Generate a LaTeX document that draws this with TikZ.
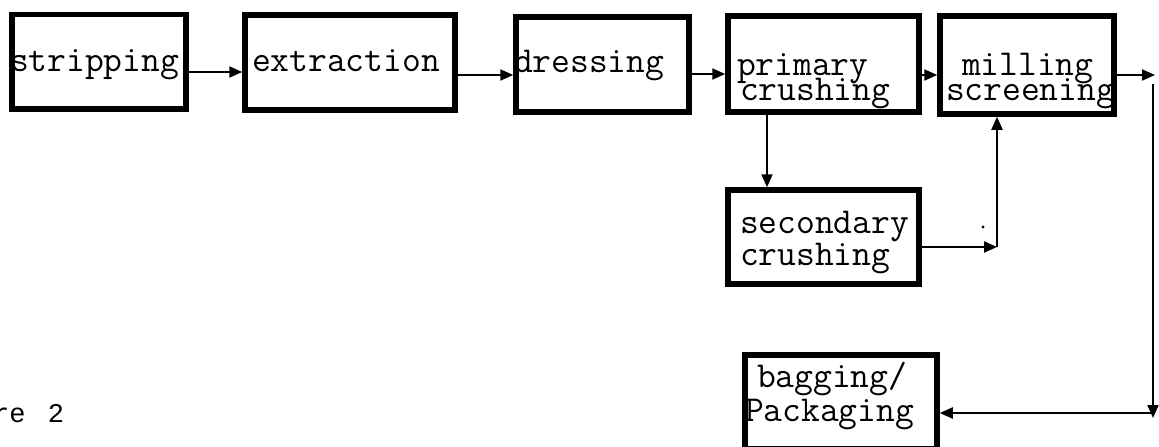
\documentclass[tikz,border=0pt]{standalone}
\usepackage{fontspec}
\newfontfamily\capfont{Liberation Mono}
\usetikzlibrary{arrows.meta}
\begin{document}
\begin{tikzpicture}[x=1pt,y=-1pt,
  stagebox/.style={draw,line width=5.5pt,rectangle,inner sep=0pt,
    minimum width=#1},
  lbl/.style={anchor=base west,inner sep=0pt,outer sep=0pt,
    font=\ttfamily\fontsize{36.5}{36.5}\selectfont},
  flow/.style={line width=2pt,-{Triangle[length=13pt,width=11pt]}}]
\useasboundingbox (0,0) rectangle (1159,447);
\clip (0,0) rectangle (1159,447);

% stage labels (boxes are drawn over them)
\node[lbl] (tStrip) at (10,71) {stripping};
\node[lbl] (tExtr) at (252,71) {extraction};
\node[lbl] (tDress) at (514,72) {dressing};
\node[lbl] (tPrimA) at (737,75) {primary};
\node[lbl] (tPrimB) at (740,100) {crushing};
\node[lbl] (tMillA) at (962,75) {milling};
\node[lbl] (tMillB) at (946,100) {screening};
\node[lbl] (tSecA) at (740,233) {secondary};
\node[lbl] (tSecB) at (740,265) {crushing};
\node[lbl] (tBagA) at (757,387) {bagging/};
\node[lbl] (tBagB) at (745,421) {Packaging};
\node[anchor=base west,inner sep=0pt,font=\capfont\fontsize{27}{27}\selectfont]
  (caption) at (-7,422) {re\ \hspace{6pt}2};

% process stages
\node[stagebox=174pt,minimum height=94.5pt] (strip) at (99,61.75) {};
\node[stagebox=210pt,minimum height=95pt] (extr) at (350,62.5) {};
\node[stagebox=173pt,minimum height=95pt] (dress) at (602.5,64.5) {};
\node[stagebox=191pt,minimum height=96pt] (prim) at (823.5,64) {};
\node[stagebox=174pt,minimum height=98pt] (mill) at (1027,65) {};
\node[stagebox=191pt,minimum height=94pt] (sec) at (823.5,237) {};
\node[stagebox=192pt,minimum height=94pt] (bag) at (841,402) {};

% routing points
\coordinate (pDown) at (767,0);
\coordinate (outR) at (1155,75);
\coordinate (downTop) at (1153,84);
\coordinate (turn) at (1153,413);
\coordinate (joinM) at (997,247);

% main line
\draw[flow] (strip.east|-0,72) -- (extr.west|-0,72);
\draw[flow] (extr.east|-0,75) -- (dress.west|-0,75);
\draw[flow] (dress.east|-0,74) -- (prim.west|-0,74);
\draw[flow] (prim.east|-0,75) -- (mill.west|-0,75);
\draw[flow] (mill.east|-outR) -- (outR);

% secondary crushing loop
\draw[flow] (prim.south-|pDown) -- (sec.north-|pDown);
\draw[flow] (sec.east|-joinM) -- (joinM);
\draw[flow] (joinM) -- (mill.south-|joinM);
\fill (983,227) circle (1.6pt);

% return to bagging
\draw[flow,shorten >=-5pt] (downTop) -- (turn);
\draw[flow] (turn) -- (bag.east|-turn);
\end{tikzpicture}
\end{document}
